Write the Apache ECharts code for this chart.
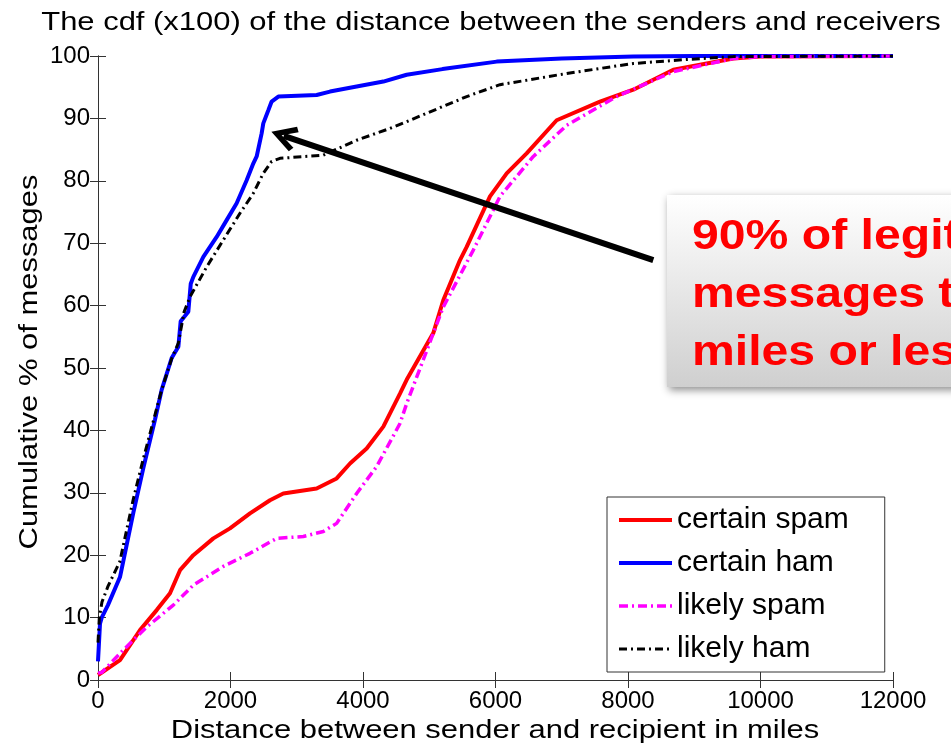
<!DOCTYPE html>
<html>
<head>
<meta charset="utf-8">
<script src="https://cdn.jsdelivr.net/npm/echarts@6/dist/echarts.min.js"></script>
<style>
  html, body { margin: 0; padding: 0; background: #fff; }
  #main { width: 951px; height: 748px; }
</style>
</head>
<body>
<div id="main"></div>
<script>
// series values (x = miles, y = cumulative %)
const certainSpamX = [0, 56, 332, 634, 886, 1087, 1238, 1439, 1741, 1992, 2294, 2596, 2797, 3300, 3602, 3804, 4055, 4307, 4558, 4659, 5061, 5213, 5464, 5565, 5917, 6169, 6470, 6923, 7577, 8080, 8684, 9087, 9590, 10000, 12000]
const certainSpamY = [0.8, 1.2, 3.2, 8, 11.2, 13.9, 17.6, 20, 22.7, 24.3, 26.7, 28.8, 29.9, 30.7, 32.3, 34.7, 37.1, 40.6, 45.9, 48.1, 55.6, 60.9, 67.3, 69.4, 77.5, 81.2, 84.4, 89.7, 92.7, 94.6, 97.8, 98.6, 99.6, 99.9, 100]

const certainHamX = [0, 30, 56, 150, 332, 533, 685, 860, 961, 1112, 1213, 1248, 1363, 1400, 1439, 1590, 1791, 1942, 2093, 2244, 2345, 2395, 2470, 2495, 2571, 2621, 2722, 3300, 3502, 3904, 4307, 4659, 5200, 6018, 7000, 8080, 9000, 12000]
const certainHamY = [3, 9, 10, 12, 16.5, 26.8, 34, 41.7, 46.5, 51.6, 53.4, 57.5, 59, 63.5, 64.6, 67.8, 71, 73.7, 76.4, 80.1, 82.8, 83.9, 87.6, 89.2, 91.3, 92.7, 93.5, 93.75, 94.3, 95.1, 95.9, 97, 97.9, 99.1, 99.6, 99.9, 100, 100]

const likelySpamX = [0, 56, 382, 735, 1137, 1439, 1891, 2294, 2697, 3099, 3401, 3602, 3904, 4206, 4558, 4659, 5213, 5665, 6068, 6571, 7075, 7829, 8684, 9590, 10000, 12000]
const likelySpamY = [1.1, 1.2, 4.8, 8.5, 12, 15.2, 18.2, 20.3, 22.7, 23, 23.8, 25.1, 29.9, 34.2, 41.1, 44.3, 59.8, 68.9, 77.5, 83.9, 88.9, 93.5, 97.5, 99.6, 99.9, 100]

const likelyHamX = [0, 20, 60, 150, 330, 533, 685, 860, 961, 1112, 1213, 1300, 1389, 1640, 1891, 2143, 2345, 2495, 2621, 2747, 3400, 3904, 4408, 4709, 5565, 6068, 7075, 8080, 8830, 9590, 12000]
const likelyHamY = [6, 10, 12.5, 15, 19, 29, 35.5, 42.5, 46.5, 51.5, 54, 59, 61.4, 66.2, 70.5, 74.8, 78, 81.2, 83.1, 83.6, 84.1, 86.5, 88.4, 89.7, 93.5, 95.4, 97.2, 98.8, 99.4, 99.9, 100]

const seriesNames = ['certain spam', 'certain ham', 'likely spam', 'likely ham']
// arrow from the note box to the knee of the ham curve
const arrowFrom = [8382, 67.3]
const arrowTo = [2803, 87.2]

function pairs(xs, ys) {
  return xs.map((x, i) => [x, ys[i]])
}

const chart = echarts.init(document.getElementById('main'))
const FONT = '"Liberation Sans", Arial, sans-serif'

const axisCommon = {
  min: 0,
  axisLine: { lineStyle: { color: '#333', width: 1 } },
  axisTick: { inside: true, length: 8, lineStyle: { color: '#333' } },
  splitLine: { show: false }
}

var option = {
  backgroundColor: '#ffffff',
  animation: false,
  grid: { left: 98, right: 58, top: 56, bottom: 68 },
  xAxis: [
    Object.assign({}, axisCommon, {
      type: 'value', max: 12000, interval: 2000, position: 'bottom',
      axisLabel: { fontSize: 24, fontFamily: FONT, color: '#000', margin: 9, formatter: v => String(v) }
    }),
    Object.assign({}, axisCommon, {
      type: 'value', max: 12000, interval: 2000, position: 'top',
      axisLabel: { show: false }
    })
  ],
  yAxis: [
    Object.assign({}, axisCommon, {
      type: 'value', max: 100, interval: 10, position: 'left',
      axisLabel: { fontSize: 24, fontFamily: FONT, color: '#000', margin: 8, formatter: v => String(v) }
    }),
    Object.assign({}, axisCommon, {
      type: 'value', max: 100, interval: 10, position: 'right',
      axisLabel: { show: false }
    })
  ],
  legend: {
    data: seriesNames,
    orient: 'vertical',
    left: 607,
    top: 497,
    padding: [8, 36, 8, 10],
    itemWidth: 53,
    itemHeight: 14,
    itemGap: 13,
    itemStyle: { opacity: 0, borderWidth: 0 },
    lineStyle: { width: 'inherit' },
    backgroundColor: '#fff',
    borderColor: '#333',
    borderWidth: 1,
    borderRadius: 0,
    textStyle: { fontSize: 30, fontFamily: FONT, color: '#000' }
  },
  series: [
    {
      name: seriesNames[0], type: 'line', symbol: 'none',
      data: pairs(certainSpamX, certainSpamY),
      lineStyle: { color: '#ff0000', width: 4 },
      itemStyle: { color: '#ff0000' }
    },
    {
      name: seriesNames[1], type: 'line', symbol: 'none',
      data: pairs(certainHamX, certainHamY),
      lineStyle: { color: '#0000ff', width: 4 },
      itemStyle: { color: '#0000ff' }
    },
    {
      name: seriesNames[2], type: 'line', symbol: 'none',
      data: pairs(likelySpamX, likelySpamY),
      lineStyle: { color: '#ff00ff', width: 3.5, type: [9, 4, 2, 4] },
      itemStyle: { color: '#ff00ff' }
    },
    {
      name: seriesNames[3], type: 'line', symbol: 'none',
      data: pairs(likelyHamX, likelyHamY),
      lineStyle: { color: '#000000', width: 3, type: [8, 4, 2, 4] },
      itemStyle: { color: '#000000' },
      markLine: {
        silent: true,
        symbol: ['none', 'path://M12,0 L24,21 L19.5,24 L12,10 L4.5,24 L0,21 Z'],
        symbolSize: [26, 26],
        label: { show: false },
        lineStyle: { color: '#000', width: 6, type: 'solid' },
        data: [[{ coord: arrowFrom }, { coord: arrowTo }]]
      }
    }
  ],
  graphic: [
    {
      type: 'text', x: 491, y: 23, scaleX: 1.19, z: 50,
      style: {
        text: 'The cdf (x100) of the distance between the senders and receivers',
        font: '26px ' + FONT, fill: '#000',
        align: 'center', verticalAlign: 'middle', textAlign: 'center', textVerticalAlign: 'middle'
      }
    },
    {
      type: 'text', x: 495, y: 731, scaleX: 1.19, z: 50,
      style: {
        text: 'Distance between sender and recipient in miles',
        font: '26px ' + FONT, fill: '#000',
        align: 'center', verticalAlign: 'middle', textAlign: 'center', textVerticalAlign: 'middle'
      }
    },
    {
      type: 'text', x: 30, y: 362, scaleX: 1.19, rotation: Math.PI / 2, z: 50,
      style: {
        text: 'Cumulative % of messages',
        font: '26px ' + FONT, fill: '#000',
        align: 'center', verticalAlign: 'middle', textAlign: 'center', textVerticalAlign: 'middle'
      }
    },
    {
      type: 'rect', x: 667, y: 195, z: 60,
      shape: { x: 0, y: 0, width: 310, height: 192 },
      style: {
        fill: new echarts.graphic.LinearGradient(0, 0, 0, 1, [
          { offset: 0, color: '#ffffff' },
          { offset: 1, color: '#cfcfcf' }
        ]),
        shadowBlur: 8,
        shadowColor: 'rgba(0,0,0,0.45)',
        shadowOffsetX: 2,
        shadowOffsetY: 3
      }
    },
    {
      type: 'text', x: 692, y: 208, scaleX: 1.12, z: 61,
      style: {
        text: '90% of legitimate\nmessages travel 2500\nmiles or less',
        font: 'bold 43px ' + FONT, fill: '#ff0000', lineHeight: 58,
        align: 'left', verticalAlign: 'top', textAlign: 'left', textVerticalAlign: 'top'
      }
    }
  ]
}

chart.setOption(option, true)
</script>
</body>
</html>
